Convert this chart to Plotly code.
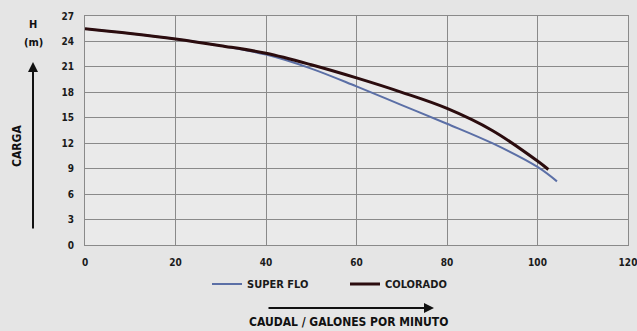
import plotly.graph_objects as go

# Data
colorado_x = [0, 10, 20, 30, 40, 50, 60, 70, 80, 90, 100, 102.4]
colorado_y = [25.5, 24.95, 24.3, 23.5, 22.6, 21.25, 19.7, 18.0, 16.1, 13.5, 9.9, 8.9]
superflo_x = [0, 10, 20, 30, 40, 50, 60, 70, 80, 90, 100, 104.3]
superflo_y = [25.5, 24.95, 24.3, 23.5, 22.45, 20.8, 18.7, 16.5, 14.3, 12.0, 9.2, 7.5]
x_ticks = [0, 20, 40, 60, 80, 100, 120]
y_ticks = [0, 3, 6, 9, 12, 15, 18, 21, 24, 27]

FONT = "Liberation Sans Narrow, DejaVu Sans Condensed, sans-serif"
BLUE = "#5b6fa6"
MAROON = "#2b0c0e"
W, H = 637, 331
L, R, T, B = 85, 9, 16, 86

fig = go.Figure()
fig.add_trace(go.Scatter(x=superflo_x, y=superflo_y, mode="lines", name="SUPER FLO",
                         line=dict(color=BLUE, width=2, shape="spline", smoothing=1.0)))
fig.add_trace(go.Scatter(x=colorado_x, y=colorado_y, mode="lines", name="COLORADO",
                         line=dict(color=MAROON, width=3, shape="spline", smoothing=1.0)))

fig.update_layout(
    width=W, height=H,
    margin=dict(l=L, r=R, t=T, b=B, autoexpand=False),
    paper_bgcolor="#e5e5e5",
    plot_bgcolor="#eaeaea",
    font=dict(family=FONT, size=10, color="#1a1a1a", weight="bold"),
    showlegend=True,
    legend=dict(orientation="h", x=(207 - L) / (W - L - R), y=-(284 - (H - B)) / (H - T - B),
                xanchor="left", yanchor="middle",
                bgcolor="rgba(0,0,0,0)", font=dict(size=11, family=FONT, weight="bold"),
                entrywidth=93, entrywidthmode="pixels"),
    xaxis=dict(range=[0, 120], tickvals=x_ticks, showgrid=True, gridcolor="#8a8a8a",
               gridwidth=1, showline=True, linecolor="#8a8a8a", mirror=True,
               zeroline=False, ticks="", ticklabelstandoff=8, ticklabeloverflow="allow",
               tickfont=dict(size=10)),
    yaxis=dict(range=[0, 27], tickvals=y_ticks, showgrid=True, gridcolor="#8a8a8a",
               gridwidth=1, showline=True, linecolor="#8a8a8a", mirror=True,
               zeroline=False, ticks="", ticklabelstandoff=8, ticklabeloverflow="allow",
               tickfont=dict(size=10)),
)

def px(xp):
    return (xp - L) / (W - L - R)

def py(yp):
    return 1 - (yp - T) / (H - T - B)

anns = [
    dict(text="H", x=33, y=25, size=11),
    dict(text="(m)", x=33, y=42, size=11),
    dict(text="CARGA", x=17, y=146, textangle=-90, size=12),
    dict(text="CAUDAL / GALONES POR MINUTO", x=348, y=322, size=12),
]
for a in anns:
    fig.add_annotation(
        text=a["text"], x=px(a["x"]), y=py(a["y"]),
        xref="paper", yref="paper", showarrow=False,
        textangle=a.get("textangle", 0),
        font=dict(family=FONT, size=a["size"], color="#111", weight="bold"),
        xanchor="center", yanchor="middle",
    )

# vertical arrow (head at y=62, tail at y=230)
fig.add_annotation(x=px(33), y=py(62), ax=0, ay=230 - 62, xref="paper", yref="paper",
                   axref="pixel", ayref="pixel", text="", showarrow=True,
                   arrowhead=2, arrowsize=1, arrowwidth=2, arrowcolor="#111")
# horizontal arrow (head at x=434, tail at x=267)
fig.add_annotation(x=px(434), y=py(308), ax=267 - 434, ay=0, xref="paper", yref="paper",
                   axref="pixel", ayref="pixel", text="", showarrow=True,
                   arrowhead=2, arrowsize=1, arrowwidth=2, arrowcolor="#111")

fig.write_html(
    "out.html",
    config={"displayModeBar": False},
    post_script="document.body.style.margin='0';document.body.style.background='#e5e5e5';",
)
